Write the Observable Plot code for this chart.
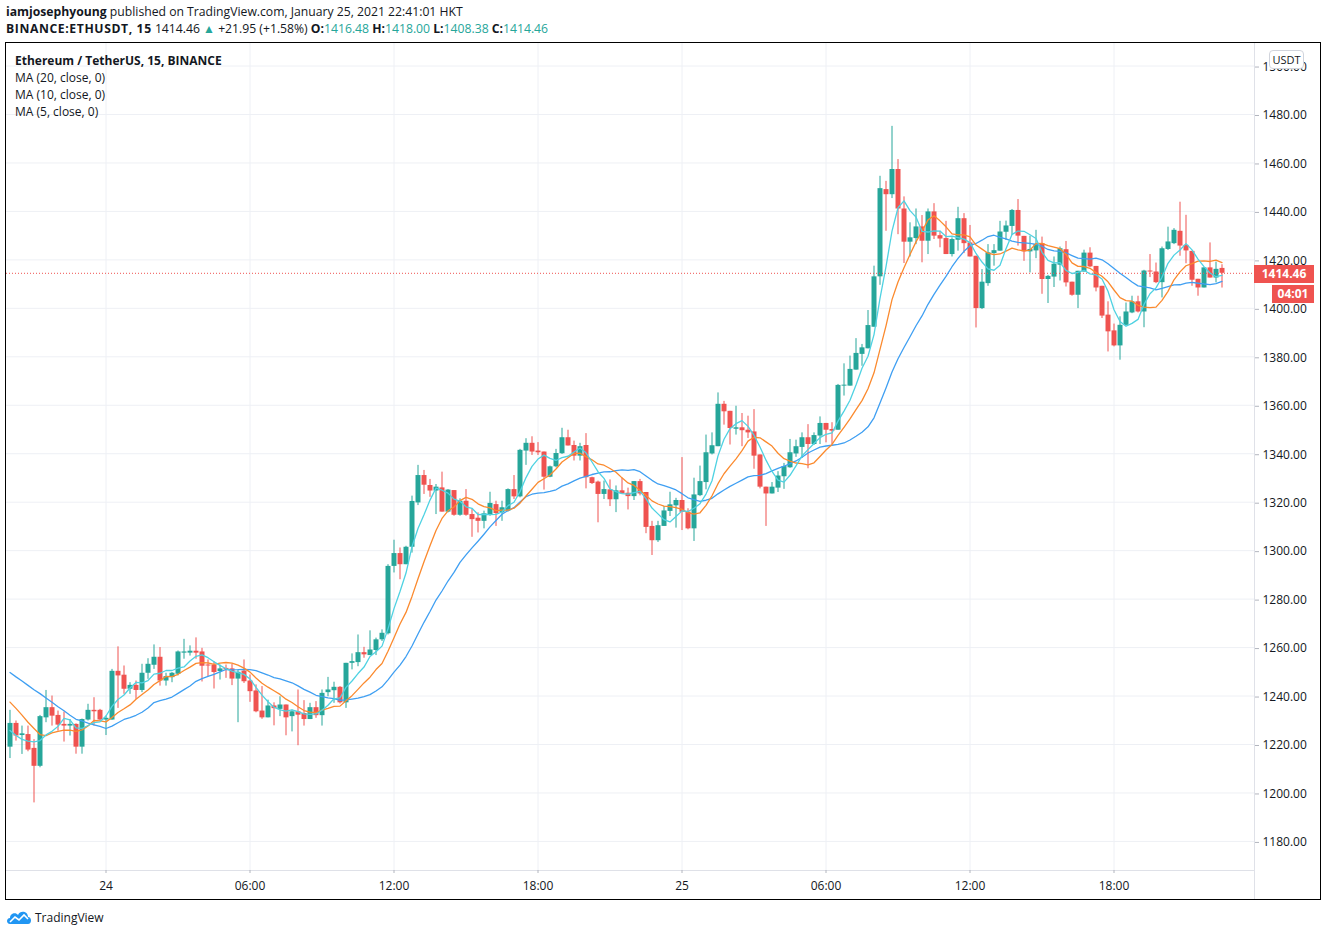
<!DOCTYPE html>
<html>
<head>
<meta charset="utf-8">
<script src="https://cdn.jsdelivr.net/npm/d3@7"></script>
<script src="https://cdn.jsdelivr.net/npm/@observablehq/plot@0.6"></script>
<style>
  html, body { margin: 0; padding: 0; background: #fff; }
  body { width: 1327px; height: 936px; position: relative; overflow: hidden; font-family: "Open Sans", sans-serif; color: #131722; }
  .hdr { position: absolute; left: 6px; font-size: 12.2px; line-height: 16px; height: 16px; white-space: nowrap; }
  .hdr b { font-weight: 700; }
  .teal { color: #26a69a; }
  .tri { color: #26a69a; font-size: 12px; line-height: 1; }
  #frame { position: absolute; left: 5px; top: 42px; width: 1314px; height: 856px; border: 1px solid #000; }
  #frame svg { position: absolute; left: 0; top: 0; }
  .leg { position: absolute; left: 9px; font-size: 12px; line-height: 16px; white-space: nowrap; color: #131722; }
  .box { position: absolute; color: #fff; font-weight: 700; font-size: 12px; text-align: center; line-height: 18px; background: #ef5350; }
  #usdt { position: absolute; left: 1263px; top: 7px; width: 33px; height: 17px; border: 1px solid #d1d4dc; border-radius: 4px; background: #fff; font-size: 11px; line-height: 17px; text-align: center; color: #131722; }
  #logo { position: absolute; left: 6px; top: 908px; height: 18px; display: flex; align-items: center; font-size: 12px; color: #131722; }
</style>
</head>
<body>
<div class="hdr" style="top:4px"><b>iamjosephyoung</b> published on TradingView.com, January 25, 2021 22:41:01 HKT</div>
<div class="hdr" style="top:21px"><b style="letter-spacing:0.6px">BINANCE:ETHUSDT, 15</b> 1414.46 <span class="tri">▲</span> +21.95 (+1.58%) <b>O:</b><span class="teal">1416.48</span> <b>H:</b><span class="teal">1418.00</span> <b>L:</b><span class="teal">1408.38</span> <b>C:</b><span class="teal">1414.46</span></div>
<div id="frame"></div>
<div id="logo"><svg width="26" height="16" viewBox="0 0 26 16"><path d="M4 15 C0 15 0 9 4 9 C4 4 10 3 12 6 C14 1 22 2 22 8 C26 8 26 15 22 15 Z" fill="#2196f3"/><polyline points="4,13 9,8 13,11 18,6 22,10" fill="none" stroke="#fff" stroke-width="1.6"/></svg><span style="margin-left:3px">TradingView</span></div>
<script>
// Candle data: ETHUSDT 15-minute candles, Jan 23 2021 20:00 -> Jan 25 2021 22:30 (UTC-based index)
const opens = [1218.9,1228.7,1223.7,1224.1,1218.4,1211.0,1231.0,1235.2,1232.0,1228.3,1227.6,1228.3,1218.9,1230.1,1234.1,1234.1,1230.1,1230.1,1250.2,1248.6,
1242.8,1244.4,1242.3,1249.4,1252.7,1256.0,1246.2,1247.6,1249.0,1257.7,1257.7,1258.5,1258.2,1252.8,1252.8,1250.1,1251.4,1251.2,1247.0,1250.3,
1246.2,1242.1,1233.8,1231.0,1235.9,1234.5,1236.3,1231.5,1233.5,1232.8,1230.3,1235.2,1231.9,1241.4,1242.2,1243.6,1237.2,1253.5,1253.8,1257.9,
1256.7,1258.8,1263.2,1265.7,1293.5,1298.8,1294.2,1301.4,1319.7,1331.0,1326.9,1324.6,1325.9,1315.9,1324.8,1314.6,1320.4,1314.9,1313.4,1312.1,
1314.6,1319.0,1315.6,1316.3,1325.2,1322.2,1341.1,1344.3,1341.1,1340.7,1330.3,1334.6,1340.0,1346.6,1343.4,1339.0,1343.4,1330.1,1328.3,1323.2,
1325.1,1321.0,1324.7,1323.7,1322.3,1328.5,1324.0,1310.0,1304.1,1310.0,1316.2,1318.5,1320.7,1315.9,1309.0,1322.7,1328.1,1339.9,1342.9,1360.4,
1357.5,1350.1,1350.7,1349.7,1349.0,1339.5,1326.2,1323.4,1325.8,1330.5,1334.2,1339.9,1342.6,1346.6,1343.8,1347.3,1352.5,1350.0,1349.7,1367.9,
1367.9,1374.5,1381.0,1383.3,1392.2,1413.0,1449.0,1446.9,1457.3,1441.0,1427.3,1428.8,1433.6,1427.7,1439.8,1430.0,1428.8,1422.2,1428.1,1437.0,
1427.0,1421.5,1399.9,1410.2,1422.6,1423.6,1431.4,1433.8,1440.4,1429.7,1423.3,1423.7,1426.7,1411.9,1412.9,1417.8,1424.2,1410.8,1405.4,1415.0,
1422.8,1417.3,1409.1,1397.2,1390.7,1384.5,1393.0,1398.1,1402.7,1398.5,1415.4,1415.0,1410.6,1424.3,1426.7,1431.8,1426.0,1423.5,1412.0,1408.4,
1416.7,1412.5,1416.48];
const highs = [1234.1,1229.7,1227.6,1227.6,1222.0,1232.0,1242.3,1240.0,1233.8,1233.4,1230.3,1228.5,1230.5,1236.6,1239.3,1234.5,1231.7,1251.0,1260.3,1252.4,
1245.5,1246.2,1253.1,1255.4,1261.1,1260.0,1249.4,1249.7,1258.6,1263.4,1260.7,1264.0,1259.7,1254.9,1254.2,1252.8,1252.8,1253.1,1250.8,1254.9,
1248.7,1244.6,1243.9,1238.3,1237.2,1239.7,1236.3,1234.2,1242.5,1238.1,1237.0,1237.7,1242.5,1247.7,1245.7,1243.9,1253.5,1257.4,1265.2,1260.1,
1266.9,1263.9,1267.3,1294.2,1304.3,1301.1,1301.8,1322.5,1335.2,1333.1,1329.4,1327.3,1332.4,1325.2,1324.8,1321.4,1325.2,1317.0,1315.6,1316.3,
1324.1,1320.4,1320.4,1325.5,1331.0,1341.8,1346.2,1347.0,1344.6,1340.7,1334.9,1341.8,1350.5,1349.7,1345.2,1344.3,1348.3,1330.3,1328.7,1328.7,
1329.2,1326.7,1329.9,1325.8,1328.5,1329.4,1324.0,1312.1,1312.1,1318.2,1324.1,1321.6,1338.4,1317.3,1329.9,1334.9,1347.7,1348.6,1365.1,1361.6,
1357.5,1359.6,1356.6,1355.5,1358.2,1339.5,1326.2,1328.1,1332.6,1336.0,1345.9,1345.6,1348.6,1352.0,1348.6,1355.2,1352.5,1352.8,1368.6,1377.1,
1380.3,1387.5,1385.1,1399.1,1417.4,1454.5,1452.4,1475.1,1461.4,1446.0,1435.3,1441.0,1438.3,1441.0,1443.2,1431.8,1435.9,1429.1,1441.7,1439.1,
1434.2,1421.5,1416.0,1426.3,1426.3,1435.9,1436.0,1440.8,1444.9,1429.7,1429.8,1432.2,1429.4,1413.6,1421.2,1425.3,1427.6,1410.8,1415.3,1424.0,
1425.0,1417.3,1409.1,1402.7,1393.5,1396.5,1402.2,1405.0,1405.0,1415.7,1422.2,1418.7,1425.3,1433.5,1432.9,1443.8,1438.4,1423.5,1412.0,1416.7,
1427.0,1419.1,1418.00];
const lows = [1214.2,1221.4,1215.9,1217.0,1195.9,1210.4,1229.0,1227.6,1225.5,1221.0,1223.5,1216.0,1216.0,1229.7,1227.6,1229.7,1223.7,1230.0,1234.9,1240.7,
1240.7,1238.6,1241.4,1246.9,1251.0,1244.1,1244.1,1245.5,1248.3,1255.2,1256.5,1255.2,1245.8,1248.0,1242.9,1246.6,1247.3,1244.3,1229.0,1245.2,
1237.4,1233.1,1230.4,1231.0,1227.7,1231.5,1223.6,1225.2,1219.5,1227.6,1230.3,1230.8,1227.6,1239.7,1237.0,1236.7,1234.9,1250.8,1252.1,1255.6,
1256.7,1256.7,1262.5,1265.2,1290.8,1288.0,1294.2,1299.0,1318.6,1323.2,1322.0,1314.9,1315.9,1315.6,1314.2,1314.2,1314.2,1305.5,1307.3,1309.0,
1314.2,1310.0,1312.1,1315.9,1321.1,1321.8,1335.2,1339.3,1339.3,1325.0,1330.1,1334.2,1339.7,1343.2,1337.0,1337.0,1325.5,1327.3,1311.5,1321.1,
1318.2,1315.7,1323.4,1316.8,1320.7,1322.6,1307.0,1298.0,1303.4,1310.0,1314.1,1309.3,1308.3,1308.6,1303.8,1322.3,1325.1,1339.5,1342.9,1351.8,
1343.6,1347.7,1342.9,1346.3,1333.6,1325.5,1310.0,1323.4,1324.0,1325.3,1334.0,1338.5,1338.1,1333.8,1343.4,1343.8,1344.5,1343.8,1349.7,1363.8,
1367.9,1374.5,1376.1,1383.3,1392.2,1409.5,1431.8,1445.3,1430.4,1418.5,1421.2,1426.3,1418.8,1422.2,1428.4,1425.0,1422.2,1421.2,1423.6,1422.6,
1421.2,1391.9,1399.5,1409.1,1417.4,1423.6,1428.0,1430.1,1425.7,1419.4,1414.6,1420.5,1405.8,1402.0,1408.6,1411.3,1408.8,1405.0,1399.9,1415.0,
1416.8,1406.8,1395.8,1382.0,1384.1,1378.6,1392.6,1397.8,1398.1,1392.0,1412.7,1410.2,1404.3,1423.9,1426.3,1421.5,1418.4,1409.1,1405.0,1408.4,
1412.5,1410.5,1408.38];
const closes = [1228.7,1223.5,1224.4,1217.7,1211.0,1231.5,1235.2,1231.7,1228.0,1227.6,1228.3,1218.9,1230.3,1234.1,1233.5,1230.1,1230.8,1250.2,1248.3,1242.8,
1244.4,1242.3,1249.4,1253.1,1256.0,1246.2,1248.0,1249.4,1258.2,1258.2,1258.5,1257.7,1252.3,1252.4,1249.7,1251.2,1250.8,1247.0,1249.8,1245.9,
1241.8,1233.5,1231.0,1235.9,1234.8,1236.3,1231.0,1233.5,1232.1,1230.3,1235.2,1231.9,1241.1,1242.5,1243.6,1237.2,1253.5,1254.2,1257.9,1257.0,
1259.0,1263.2,1265.9,1293.5,1298.8,1294.2,1301.4,1320.3,1331.0,1327.0,1324.6,1326.2,1315.9,1325.0,1314.6,1320.4,1314.6,1312.8,1312.1,1315.2,
1319.5,1315.3,1317.7,1325.2,1322.2,1341.4,1344.3,1340.7,1340.4,1330.3,1334.6,1340.1,1346.6,1343.2,1339.0,1342.9,1330.1,1327.7,1323.2,1325.2,
1321.0,1324.7,1323.4,1322.3,1328.5,1323.4,1309.6,1304.1,1310.3,1316.4,1318.9,1320.7,1315.8,1309.0,1323.0,1328.5,1340.4,1343.3,1360.4,1357.3,
1350.4,1350.7,1349.5,1348.6,1339.0,1326.2,1323.4,1326.2,1330.8,1334.7,1340.4,1342.9,1346.6,1343.8,1347.5,1352.5,1349.7,1349.3,1368.2,1368.3,
1374.8,1381.4,1383.7,1392.9,1413.0,1449.4,1446.9,1457.3,1441.0,1427.3,1429.1,1433.6,1427.7,1439.8,1429.8,1428.6,1422.2,1428.4,1437.0,1426.7,
1421.2,1399.9,1410.8,1422.9,1423.8,1431.5,1434.0,1440.4,1429.8,1423.3,1424.3,1426.4,1411.9,1413.2,1418.2,1424.6,1410.5,1405.4,1415.3,1422.8,
1417.1,1408.4,1396.8,1390.3,1384.5,1393.0,1398.5,1402.7,1398.5,1415.4,1415.0,1410.6,1424.6,1427.4,1432.2,1425.7,1423.7,1411.6,1408.4,1416.7,
1412.5,1416.1,1414.46];
// Moving-average values for the first candles (their windows reach before the visible range)
const ma20Head = [1249.7,1247.9,1246.2,1244.4,1242.6,1241.0,1239.2,1237.4,1235.6,1233.9,1232.1,1230.4,1229.7,1228.8,1228.1,1227.5,1226.6,1227.6,1229.0];
const ma10Head = [1237.5,1234.9,1232.1,1229.2,1226.6,1224.1,1223.7,1224.8,1225.4];
const ma5Head = [1225.8,1223.7,1222.1,1221.4];
const yTicks = [1180,1200,1220,1240,1260,1280,1300,1320,1340,1360,1380,1400,1420,1440,1460,1480,1500];
const xTickLabels = ["24","06:00","12:00","18:00","25","06:00","12:00","18:00"];
const lastPrice = 1414.46;
const timeLeft = "04:01";

const t0 = Date.UTC(2021, 0, 23, 20, 0);
const H = 3600000;
const candles = opens.map((o, i) => ({
  t: new Date(t0 + i * 15 * 60000), o, h: highs[i], l: lows[i], c: closes[i]
}));
function ma(k, head) {
  return candles.map((d, i) => ({
    t: d.t,
    v: i < k - 1 ? head[i] : d3.mean(closes.slice(i - k + 1, i + 1))
  }));
}
const ma20 = ma(20, ma20Head), ma10 = ma(10, ma10Head), ma5 = ma(5, ma5Head);
const xTicks = xTickLabels.map((_, i) => new Date(Date.UTC(2021, 0, 24) + i * 6 * H));
const xStart = new Date(t0 - 0.14583 * H), xEnd = new Date(t0 + 51.854 * H);
const yMin = 1168.0, yMax = 1509.3;
const up = "#26a69a", down = "#ef5350";
const col = d => d.c >= d.o ? up : down;

const plot = Plot.plot({
  width: 1314, height: 856,
  marginLeft: 0, marginRight: 66, marginTop: 0, marginBottom: 29,
  style: {fontFamily: "Open Sans", fontSize: "12px", color: "#131722", background: "transparent", overflow: "visible"},
  x: {type: "utc", domain: [xStart, xEnd]},
  y: {domain: [yMin, yMax]},
  marks: [
    Plot.gridY(yTicks, {stroke: "#eef0f5", strokeOpacity: 1}),
    Plot.gridX(xTicks, {stroke: "#eef0f5", strokeOpacity: 1}),
    Plot.ruleY([yMin], {stroke: "#dfe1e8"}),
    Plot.ruleX([xEnd], {y1: yMin - 29 / 2.4233, y2: yMax, stroke: "#dfe1e8"}),
    Plot.axisY(yTicks, {anchor: "right", tickSize: 4, tickPadding: 4, tickFormat: d => d.toFixed(2), stroke: "#b2b5be", fill: "#131722", label: null, fontSize: 12, dy: 1}),
    Plot.axisX(xTicks, {anchor: "bottom", tickSize: 3, tickPadding: 8, tickFormat: (d, i) => xTickLabels[i], stroke: "#b2b5be", fill: "#131722", label: null, fontSize: 12}),
    Plot.ruleX(candles, {x: "t", y1: "l", y2: "h", stroke: col, strokeWidth: 1}),
    Plot.ruleX(candles, {x: "t", y1: "o", y2: d => Math.abs(d.c - d.o) < 0.4 ? d.o + (d.c >= d.o ? 0.4 : -0.4) : d.c, stroke: col, strokeWidth: 5}),
    Plot.ruleY([lastPrice], {stroke: down, strokeDasharray: "1,2", strokeWidth: 1}),
    Plot.line(ma20, {x: "t", y: "v", stroke: "#3f9ff2", strokeWidth: 1.3}),
    Plot.line(ma10, {x: "t", y: "v", stroke: "#fb8a2e", strokeWidth: 1.3}),
    Plot.line(ma5, {x: "t", y: "v", stroke: "#4fd2e2", strokeWidth: 1.3})
  ]
});
const frame = document.getElementById("frame");
frame.appendChild(plot);

const legend = ["<b>Ethereum / TetherUS, 15, BINANCE</b>", "MA (20, close, 0)", "MA (10, close, 0)", "MA (5, close, 0)"];
legend.forEach((s, i) => {
  const d = document.createElement("div");
  d.className = "leg"; d.style.top = (10 + i * 17) + "px"; d.innerHTML = s;
  frame.appendChild(d);
});
const usdt = document.createElement("div");
usdt.id = "usdt"; usdt.textContent = "USDT"; frame.appendChild(usdt);

const py = plot.scale("y").apply(lastPrice);
const pb = document.createElement("div");
pb.className = "box"; pb.textContent = lastPrice.toFixed(2);
Object.assign(pb.style, {left: "1248px", top: (py - 8) + "px", width: "60px", height: "18px"});
frame.appendChild(pb);
const tb = document.createElement("div");
tb.className = "box"; tb.textContent = timeLeft;
Object.assign(tb.style, {left: "1266px", top: (py + 12) + "px", width: "42px", height: "18px"});
frame.appendChild(tb);
</script>
</body>
</html>
